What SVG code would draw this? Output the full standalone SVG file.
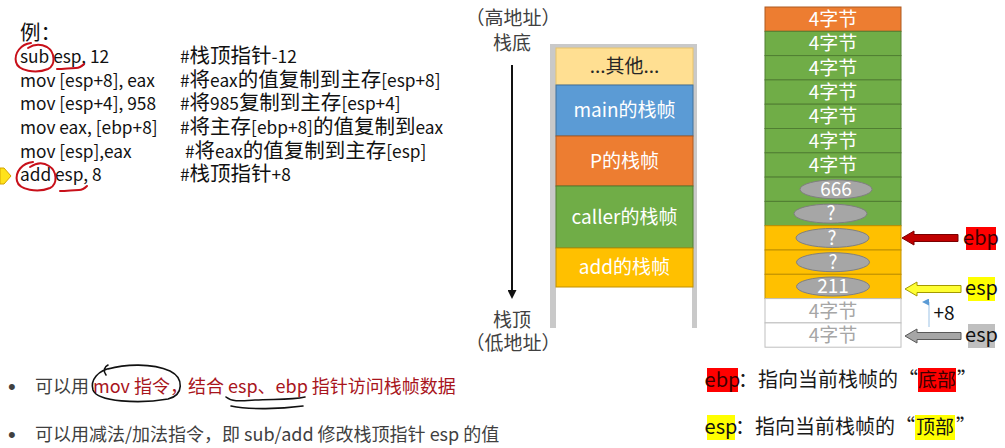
<svg xmlns="http://www.w3.org/2000/svg" width="1005" height="448" viewBox="0 0 1005 448">
<defs>
<style>
text{font-family:"Noto Sans CJK SC","Liberation Sans",sans-serif;}
.code{font-size:17.3px;fill:#111;}
.cj{font-size:20.5px;}
.lbl{font-size:19px;fill:#404040;text-anchor:middle;}
.box{font-size:19px;fill:#fff;text-anchor:middle;}
.cell{font-size:19px;fill:#fff;text-anchor:middle;}
.cellg{font-size:19px;fill:#a6a6a6;text-anchor:middle;}
.bul{font-size:18px;fill:#404040;}
.dot{font-family:"Liberation Sans",sans-serif;font-size:22px;fill:#404040;}
.red{fill:#a8141c;}
.leg{font-size:20px;fill:#1a1a1a;}
.g{fill:#70ad47;stroke:#507e32;stroke-width:1;}
.o{fill:#ed7d31;stroke:#ae5a21;stroke-width:1;}
.y{fill:#ffc000;stroke:#c09000;stroke-width:1;}
.w{fill:#fff;stroke:#bfbfbf;stroke-width:1;}
.ell{fill:#a6a6a6;stroke:#7f7f7f;stroke-width:1;}
.pen-r{fill:none;stroke:#c8101a;stroke-width:2;stroke-linecap:round;}
.pen-k{fill:none;stroke:#111;stroke-width:1.6;stroke-linecap:round;}
.pole{fill:#c9c9c9;}
</style>
<marker id="blueHead" viewBox="0 0 10 10" refX="5" refY="10" markerWidth="7" markerHeight="7" orient="auto-start-reverse" markerUnits="userSpaceOnUse">
<path d="M0,10 L5,0 L10,10 Z" fill="#5b9bd5"/>
</marker>
<marker id="blackHead" viewBox="0 0 10 10" refX="5" refY="0" markerWidth="9" markerHeight="11" orient="0" markerUnits="userSpaceOnUse">
<path d="M0,0 L10,0 L5,10 Z" fill="#111"/>
</marker>
</defs>
<rect width="1005" height="448" fill="#fff"/>

<!-- code block -->
<g id="code">
<text class="code" x="20" y="40"><tspan class="cj">例：</tspan></text>
<text class="code" x="20" y="63">sub esp, 12</text>
<text class="code" x="180" y="63">#<tspan class="cj">栈顶指针</tspan>-12</text>
<text class="code" x="20" y="87">mov [esp+8], eax</text>
<text class="code" x="180" y="87">#<tspan class="cj">将</tspan>eax<tspan class="cj">的值复制到主存</tspan>[esp+8]</text>
<text class="code" x="20" y="110">mov [esp+4], 958</text>
<text class="code" x="180" y="110">#<tspan class="cj">将</tspan>985<tspan class="cj">复制到主存</tspan>[esp+4]</text>
<text class="code" x="20" y="134">mov eax, [ebp+8]</text>
<text class="code" x="180" y="134">#<tspan class="cj">将主存</tspan>[ebp+8]<tspan class="cj">的值复制到</tspan>eax</text>
<text class="code" x="20" y="158">mov [esp],eax</text>
<text class="code" x="185" y="158">#<tspan class="cj">将</tspan>eax<tspan class="cj">的值复制到主存</tspan>[esp]</text>
<text class="code" x="20" y="181">add esp, 8</text>
<text class="code" x="180" y="181">#<tspan class="cj">栈顶指针</tspan>+8</text>
</g>

<g id="pointer">
<polygon points="0,168 4,168 11,176 4,184 0,184" fill="#ffe21a" stroke="#d4a400" stroke-width="1"/>
</g>

<g id="ink-red">
<path class="pen-r" d="M31,43 C21,44 14,53 16,62 C18,71 36,74 48,69 C56,65 55,52 47,47 C41,44 34,44 28,48"/>
<path class="pen-r" d="M57,69 C64,69 70,68 76,68 C80,68 82,66 84,64"/>
<path class="pen-r" d="M33,162 C22,163 15,172 17,181 C19,190 38,193 50,188 C58,184 57,171 49,166 C43,162 36,163 30,167"/>
<path class="pen-r" d="M60,191 C67,191 73,190 79,190 C83,190 85,188 87,186"/>
</g>

<!-- middle stack -->
<g id="stack-axis">
<text class="lbl" x="513" y="25">（高地址）</text>
<text class="lbl" x="512" y="50">栈底</text>
<text class="lbl" x="512" y="327">栈顶</text>
<text class="lbl" x="513" y="350">（低地址）</text>
</g>

<g id="frame">
<rect class="pole" x="550" y="44" width="147" height="4"/>
<rect class="pole" x="550" y="44" width="6" height="284"/>
<rect class="pole" x="692" y="44" width="5" height="284"/>
</g>

<g id="box-other">
<rect x="556" y="48" width="137" height="37" fill="#ffdf92" stroke="#e8c36a" stroke-width="1"/>
<text class="box" x="624.5" y="73" style="fill:#262626">...其他...</text>
</g>
<g id="box-main">
<rect x="556" y="85" width="137" height="51" fill="#5b9bd5" stroke="#41719c" stroke-width="1"/>
<text class="box" x="624.5" y="117">main的栈帧</text>
</g>
<g id="box-p">
<rect x="556" y="136" width="137" height="50" fill="#ed7d31" stroke="#ae5a21" stroke-width="1"/>
<text class="box" x="624.5" y="168">P的栈帧</text>
</g>
<g id="box-caller">
<rect x="556" y="186" width="137" height="62" fill="#70ad47" stroke="#507e32" stroke-width="1"/>
<text class="box" x="624.5" y="224">caller的栈帧</text>
</g>
<g id="box-add">
<rect x="556" y="248" width="137" height="39" fill="#ffc000" stroke="#c09000" stroke-width="1"/>
<text class="box" x="624.5" y="274">add的栈帧</text>
</g>

<!-- right stack -->
<g id="cells">
<g id="cell-0"><rect class="o" x="765" y="7" width="136" height="24.3"/><text class="cell" x="833" y="26">4字节</text></g>
<g id="cell-1"><rect class="g" x="765" y="31.3" width="136" height="24.3"/><text class="cell" x="833" y="50.3">4字节</text></g>
<g id="cell-2"><rect class="g" x="765" y="55.6" width="136" height="24.3"/><text class="cell" x="833" y="74.6">4字节</text></g>
<g id="cell-3"><rect class="g" x="765" y="79.9" width="136" height="24.3"/><text class="cell" x="833" y="98.9">4字节</text></g>
<g id="cell-4"><rect class="g" x="765" y="104.2" width="136" height="24.3"/><text class="cell" x="833" y="123.2">4字节</text></g>
<g id="cell-5"><rect class="g" x="765" y="128.5" width="136" height="24.3"/><text class="cell" x="833" y="147.5">4字节</text></g>
<g id="cell-6"><rect class="g" x="765" y="152.8" width="136" height="24.3"/><text class="cell" x="833" y="171.8">4字节</text></g>
<g id="cell-7"><rect class="g" x="765" y="177.1" width="136" height="24.3"/><ellipse class="ell" cx="836" cy="189.3" rx="36" ry="9.5"/><text class="cell" x="836" y="196">666</text></g>
<g id="cell-8"><rect class="g" x="765" y="201.4" width="136" height="24.3"/><ellipse class="ell" cx="830.5" cy="213.6" rx="36.5" ry="9.5"/><text class="cell" x="831" y="220.3">?</text></g>
<g id="cell-9"><rect class="y" x="765" y="225.7" width="136" height="24.3"/><ellipse class="ell" cx="832.5" cy="237.9" rx="36.5" ry="9.5"/><text class="cell" x="832" y="244.6">?</text></g>
<g id="cell-10"><rect class="y" x="765" y="250" width="136" height="24.3"/><ellipse class="ell" cx="833" cy="262.2" rx="36.5" ry="9.5"/><text class="cell" x="833" y="268.9">?</text></g>
<g id="cell-11"><rect class="y" x="765" y="274.3" width="136" height="24.3"/><ellipse class="ell" cx="833" cy="286.5" rx="36.5" ry="9.5"/><text class="cell" x="833" y="293.2">211</text></g>
<g id="cell-12"><rect class="w" x="765" y="298.6" width="136" height="24.3"/><text class="cellg" x="833" y="317.6">4字节</text></g>
<g id="cell-13"><rect class="w" x="765" y="322.9" width="136" height="24.3"/><text class="cellg" x="833" y="341.9">4字节</text></g>
</g>

<g id="connectors">
<line x1="512" y1="65" x2="512" y2="290" stroke="#111" stroke-width="2" marker-end="url(#blackHead)"/>
<polygon points="902,238 914,231 914,234.5 958,234.5 958,241.5 914,241.5 914,245" fill="#c00000" stroke="#7a0000" stroke-width="1"/>
<polygon points="905,289 917,282 917,285.5 961,285.5 961,292.5 917,292.5 917,296" fill="#ffff33" stroke="#a59a00" stroke-width="1"/>
<polygon points="905,336 917,329 917,332.5 961,332.5 961,339.5 917,339.5 917,343" fill="#a6a6a6" stroke="#595959" stroke-width="1"/>
<line x1="929" y1="327" x2="929" y2="302" stroke="#9dc3e6" stroke-width="1" marker-end="url(#blueHead)"/>
</g>

<g id="tag-ebp">
<rect x="966" y="227" width="30" height="23" fill="#ff0000"/>
<text x="981" y="245" style="font-size:20px;fill:#3b0000;text-anchor:middle">ebp</text>
</g>
<g id="tag-esp-new">
<rect x="968" y="277" width="27" height="24" fill="#ffff00"/>
<text x="981.5" y="295" style="font-size:20px;fill:#111;text-anchor:middle">esp</text>
</g>
<g id="tag-esp-old">
<rect x="968" y="324" width="27" height="24" fill="#bfbfbf"/>
<text x="981.5" y="342" style="font-size:20px;fill:#111;text-anchor:middle">esp</text>
</g>
<g id="label-plus8">
<text x="944" y="320" style="font-size:19px;fill:#111;text-anchor:middle">+8</text>
</g>

<!-- bullets -->
<g id="bullets">
<text class="dot" x="8" y="394">•</text>
<text class="bul" x="35" y="393">可以用 <tspan class="red">mov 指令，结合 esp、ebp 指针访问栈帧数据</tspan></text>
<text class="dot" x="8" y="442">•</text>
<text class="bul" x="35" y="441">可以用减法/加法指令，即 sub/add 修改栈顶指针 esp 的值</text>
</g>
<g id="ink-black">
<path class="pen-k" d="M108,365 C104,367 103,371 106,375 M112,368 C98,370 90,380 93,390 C97,402 140,404 168,399 C184,395 184,378 170,371 C152,363 125,364 108,369"/>
<path class="pen-k" d="M226,397 C232,402 240,401 255,400 C275,399 292,400 305,397"/>
<path class="pen-k" d="M231,406 C250,410 280,409 303,406"/>
</g>

<!-- legend -->
<g id="legend-ebp">
<rect x="707" y="368" width="31" height="24" fill="#ff0000"/>
<text x="722.5" y="387" style="font-size:20px;fill:#3b0000;text-anchor:middle">ebp</text>
<text class="leg" x="738" y="387">：指向当前栈帧的“</text>
<rect x="918" y="368" width="38" height="24" fill="#ff0000"/>
<text x="937" y="387" style="font-size:19px;fill:#3b0000;text-anchor:middle">底部</text>
<text class="leg" x="957" y="387">”</text>
</g>
<g id="legend-esp">
<rect x="707" y="415" width="28" height="25" fill="#ffff00"/>
<text x="721" y="434" style="font-size:20px;fill:#111;text-anchor:middle">esp</text>
<text class="leg" x="735" y="434">：指向当前栈帧的“</text>
<rect x="915" y="415" width="40" height="25" fill="#ffff00"/>
<text x="935" y="434" style="font-size:19px;fill:#111;text-anchor:middle">顶部</text>
<text class="leg" x="956" y="434">”</text>
</g>
</svg>
